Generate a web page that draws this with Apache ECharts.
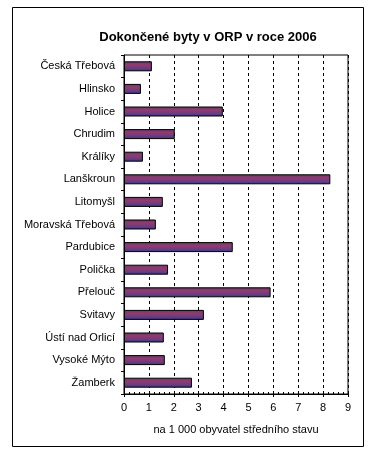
<!DOCTYPE html>
<html>
<head>
<meta charset="utf-8">
<script src="https://cdn.jsdelivr.net/npm/echarts@6/dist/echarts.min.js"></script>
<style>html,body{margin:0;padding:0;background:#fff}#c{width:377px;height:454px}</style>
</head>
<body>
<div id="c"></div>
<script>
const categories = ['Česká Třebová','Hlinsko','Holice','Chrudim','Králíky','Lanškroun','Litomyšl','Moravská Třebová','Pardubice','Polička','Přelouč','Svitavy','Ústí nad Orlicí','Vysoké Mýto','Žamberk'];
const values = [1.12, 0.68, 3.97, 2.04, 0.76, 8.29, 1.56, 1.28, 4.37, 1.77, 5.89, 3.21, 1.6, 1.64, 2.73];
const titleText = 'Dokončené byty v ORP v roce 2006';
const axisNameText = 'na 1 000 obyvatel středního stavu';

const font = 'Liberation Sans, Arial, sans-serif';
const chart = echarts.init(document.getElementById('c'), null, {renderer: 'canvas'});
chart.setOption({
  animation: false,
  backgroundColor: '#fff',
  title: {
    text: titleText, left: 203, textAlign: 'center', top: 26,
    textStyle: {fontFamily: font, fontSize: 13, fontWeight: 'bold', color: '#000'}
  },
  graphic: [{
    type: 'rect', shape: {x: 12.5, y: 7.5, width: 351, height: 439},
    style: {fill: 'none', stroke: '#000', lineWidth: 1}, silent: true
  }],
  grid: {left: 124, right: 29, top: 55, bottom: 60, show: true, borderColor: '#000', borderWidth: 1, backgroundColor: 'transparent'},
  xAxis: [{
    type: 'value', min: 0, max: 9, interval: 1, position: 'bottom',
    name: axisNameText, nameLocation: 'middle', nameGap: 30,
    nameTextStyle: {fontFamily: font, fontSize: 11, color: '#000'},
    axisLine: {show: true, lineStyle: {color: '#000', width: 1}},
    axisTick: {show: true, length: 3, lineStyle: {color: '#000'}},
    axisLabel: {fontFamily: font, fontSize: 11, color: '#000', margin: 8},
    splitLine: {show: true, lineStyle: {color: '#000', type: [3, 3], width: 1}}
  }, {
    type: 'value', min: 0, max: 9, interval: 1, position: 'bottom', offset: 0,
    axisLine: {show: false},
    axisTick: {show: true, inside: true, length: 3, lineStyle: {color: '#000'}},
    minorTick: {show: true, splitNumber: 5, length: 2, lineStyle: {color: '#000'}},
    axisLabel: {show: false},
    splitLine: {show: false}
  }],
  yAxis: {
    type: 'category', data: categories, inverse: true,
    axisLine: {show: true, lineStyle: {color: '#000', width: 1}},
    axisTick: {show: true, length: 3, lineStyle: {color: '#000'}},
    axisLabel: {fontFamily: font, fontSize: 11, color: '#000', margin: 9},
    splitLine: {show: false}
  },
  series: [{
    type: 'bar', data: values, barWidth: 10, xAxisIndex: 0,
    itemStyle: {
      borderColor: '#000', borderWidth: 1,
      color: new echarts.graphic.LinearGradient(0, 0, 0, 1, [
        {offset: 0, color: '#5e3a6c'},
        {offset: 0.35, color: '#943a6e'},
        {offset: 0.7, color: '#6a3c82'},
        {offset: 1, color: '#2c3a80'}
      ])
    }
  }]
});
</script>
</body>
</html>
